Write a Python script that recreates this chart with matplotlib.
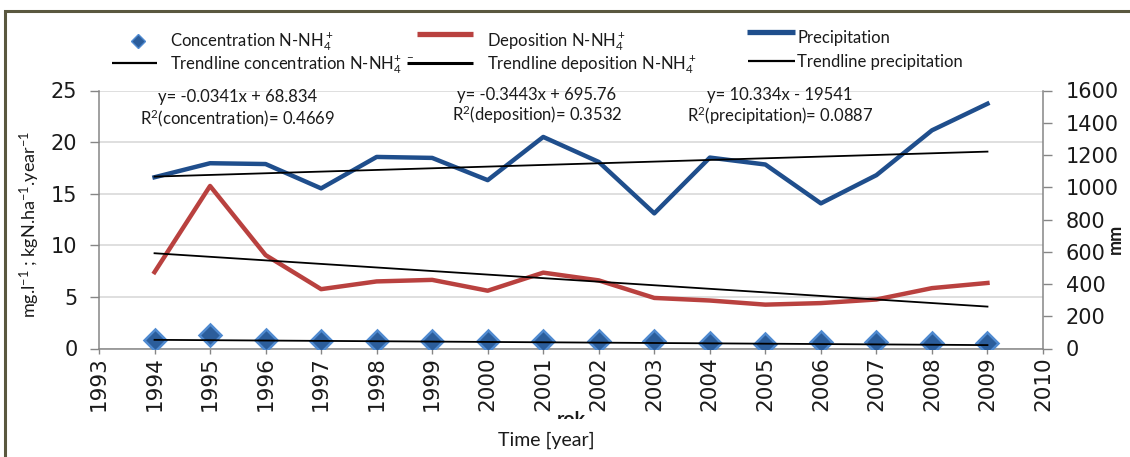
import matplotlib
matplotlib.use("Agg")
import matplotlib.pyplot as plt
from matplotlib.lines import Line2D
from matplotlib.patches import Rectangle
from matplotlib.transforms import Bbox, TransformedBbox

# ---------------- data ----------------
years = [1994, 1995, 1996, 1997, 1998, 1999, 2000, 2001,
         2002, 2003, 2004, 2005, 2006, 2007, 2008, 2009]
concentration = [0.82, 1.3, 0.82, 0.7, 0.7, 0.7, 0.7, 0.7,
                 0.7, 0.75, 0.55, 0.4, 0.65, 0.6, 0.5, 0.5]
deposition = [7.4, 15.75, 9.05, 5.75, 6.5, 6.65, 5.6, 7.35,
              6.6, 4.9, 4.65, 4.25, 4.4, 4.75, 5.85, 6.35]
precipitation = [1062, 1149, 1144, 993, 1188, 1182, 1044, 1312,
                 1157, 838, 1184, 1141, 900, 1075, 1353, 1518]
trend_years = [1994, 2009]
trend_concentration = [0.84, 0.33]
trend_deposition = [9.23, 4.06]
trend_precipitation = [1066, 1221]

x_ticks = list(range(1993, 2011))
left_ticks = [0, 5, 10, 15, 20, 25]
right_ticks = [0, 200, 400, 600, 800, 1000, 1200, 1400, 1600]

legend_labels = [
    "Concentration N-NH$_4^+$",
    "Trendline concentration N-NH$_4^{+\\ -}$",
    "Deposition N-NH$_4^+$",
    "Trendline deposition N-NH$_4^+$",
    "Precipitation",
    "Trendline precipitation",
]
eq_texts = ["y= -0.0341x + 68.834", "y= -0.3443x + 695.76", "y= 10.334x - 19541"]
r2_texts = ["R$^2$(concentration)= 0.4669", "R$^2$(deposition)= 0.3532",
            "R$^2$(precipitation)= 0.0887"]

# ---------------- style ----------------
W, H = 1130, 457
plt.rcParams['font.family'] = ['Lato', 'DejaVu Sans']
plt.rcParams['mathtext.default'] = 'regular'

BLUE = "#1f4e8c"
RED = "#b9413f"
DIAM_FC = "#2b5d9b"
DIAM_EC = "#4f8ad0"
GRID = "#d9d9d9"
AXC = "#868686"
TXT = "#1a1a1a"

fig = plt.figure(figsize=(W / 100, H / 100), dpi=100)
fig.patch.set_facecolor("white")

def fx(x):
    return x / W

def fy(y):
    return 1 - y / H

ax = fig.add_axes([fx(99), fy(348.5), fx(1043) - fx(99), fy(90.5) - fy(348.5)])
ax2 = ax.twinx()
ax2.patch.set_visible(False)

ax.set_ylim(0, 25)
ax.set_xlim(1993, 2010)
ax2.set_ylim(0, 1600)
ax.set_yticks(left_ticks)
ax2.set_yticks(right_ticks)
ax.set_xticks(x_ticks)
ax.set_xticklabels([str(t) for t in x_ticks], fontfamily='DejaVu Sans')
ax.set_yticklabels([str(t) for t in left_ticks], fontfamily='DejaVu Sans')
ax2.set_yticklabels([str(t) for t in right_ticks], fontfamily='DejaVu Sans')
ax.yaxis.grid(True, color=GRID, lw=1.2)
ax.set_axisbelow(True)

for s in ['top', 'right']:
    ax.spines[s].set_visible(False)
for s in ['left', 'bottom']:
    ax.spines[s].set_color(AXC)
    ax.spines[s].set_linewidth(1.1)
for s in ['top', 'left', 'bottom']:
    ax2.spines[s].set_visible(False)
ax2.spines['right'].set_color(AXC)
ax2.spines['right'].set_linewidth(1.1)

ax.tick_params(axis='y', direction='out', length=6.5, width=1, color=AXC,
               pad=9, labelsize=15, labelcolor=TXT)
ax2.tick_params(axis='y', direction='out', length=6.5, width=1, color=AXC,
                pad=10, labelsize=15, labelcolor=TXT)
ax.tick_params(axis='x', direction='out', length=3.6, width=1, color=AXC,
               pad=2, labelsize=15.5, labelrotation=90, labelcolor=TXT)

# data marks
ax.plot(years, deposition, color=RED, lw=3.2, solid_joinstyle='round', zorder=3)
ax.plot(years, concentration, ls='none', marker='D', ms=11,
        mfc=DIAM_FC, mec=DIAM_EC, mew=1.8, zorder=3)
ax.plot(trend_years, trend_concentration, color='black', lw=1.3, zorder=4)
ax.plot(trend_years, trend_deposition, color='black', lw=1.3, zorder=4)
ax2.plot(years, precipitation, color=BLUE, lw=3.2, solid_joinstyle='round', zorder=3)
ax2.plot(trend_years, trend_precipitation, color='black', lw=1.3, zorder=4)

# ---------------- legend (manual layout) ----------------
def leg_line(x0, x1, y, color, lw):
    fig.add_artist(Line2D([fx(x0), fx(x1)], [fy(y), fy(y)], transform=fig.transFigure,
                          color=color, lw=lw, solid_capstyle='butt'))

fig.add_artist(Line2D([fx(138)], [fy(41)], transform=fig.transFigure, ls='none',
                      marker='D', ms=7, mfc=DIAM_FC, mec=DIAM_EC, mew=1))
leg_line(112, 157, 63, 'black', 1.6)
leg_line(417, 473, 34, RED, 3.8)
leg_line(407, 473, 63, 'black', 2.2)
leg_line(747, 795, 32, BLUE, 3.8)
leg_line(748, 795, 61, 'black', 1.6)

leg_pos = [(170, 46.5), (170, 69.5), (487, 46.5), (487, 70), (797, 43), (797, 66.5)]
for (x, y), lab in zip(leg_pos, legend_labels):
    fig.text(fx(x), fy(y), lab, ha='left', va='baseline', fontsize=12, color=TXT)

# equations
eq_pos = [(238, 102, 124.5), (537, 100, 121.5), (780, 100, 122)]
for (x, y1, y2), e, r in zip(eq_pos, eq_texts, r2_texts):
    fig.text(fx(x), fy(y1), e, ha='center', va='baseline', fontsize=12, color=TXT)
    fig.text(fx(x), fy(y2), r, ha='center', va='baseline', fontsize=12, color=TXT)

# axis titles
fig.text(fx(30), fy(225), "mg.l$^{-1}$ ; kgN.ha$^{-1}$.year$^{-1}$", rotation=90,
         ha='center', va='center', fontsize=13, color=TXT)
fig.text(fx(1115), fy(239), "mm", rotation=90, ha='center', va='center',
         fontsize=13, fontweight='bold', color=TXT)
fig.text(fx(546), fy(446), "Time [year]", ha='center', va='baseline',
         fontsize=14, color=TXT)

# partially hidden "rok"
rok = fig.text(fx(571), fy(425), "rok", ha='center', va='baseline', fontsize=14,
               fontweight='bold', color=TXT)
rok.set_clip_box(TransformedBbox(Bbox.from_extents(0, fy(419), 1, 1), fig.transFigure))
rok.set_clip_on(True)

# outer frame
fig.add_artist(Rectangle((fx(5), -0.5), 2.0, fy(11) + 0.5, transform=fig.transFigure,
                         fill=False, ec="#5a583f", lw=2.2))

fig.savefig("out.png", dpi=100, facecolor="white")
